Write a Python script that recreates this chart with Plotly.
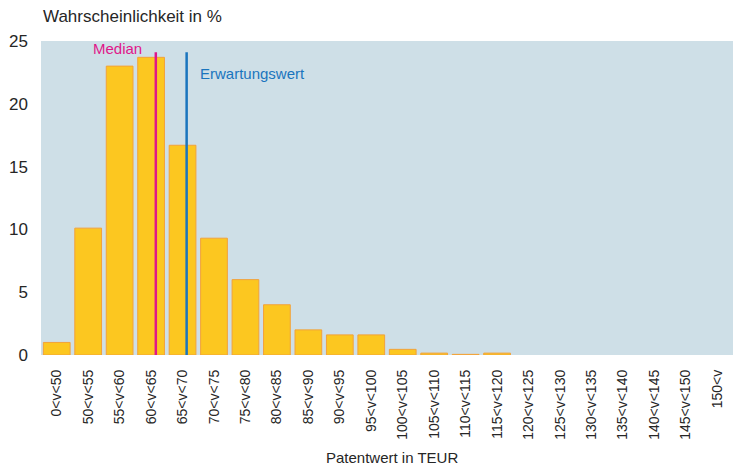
import plotly.graph_objects as go

categories = ["0<v<50", "50<v<55", "55<v<60", "60<v<65", "65<v<70", "70<v<75",
              "75<v<80", "80<v<85", "85<v<90", "90<v<95", "95<v<100", "100<v<105",
              "105<v<110", "110<v<115", "115<v<120", "120<v<125", "125<v<130",
              "130<v<135", "135<v<140", "140<v<145", "145<v<150", "150<v"]
probabilities = [1.0, 10.1, 23.0, 23.7, 16.7, 9.3, 6.0, 4.0, 2.0, 1.6, 1.6, 0.45,
                 0.15, 0.05, 0.15, 0, 0, 0, 0, 0, 0, 0]
# positions of reference lines in category-index units
median_pos = 3.15
mean_pos = 4.13
line_top = 24.1
y_ticks = [0, 5, 10, 15, 20, 25]

font_family = "Liberation Sans, Arial, sans-serif"
text_color = "#262626"

fig = go.Figure()
fig.add_trace(go.Bar(
    x=list(range(len(categories))), y=probabilities,
    marker=dict(color="#FCC720",
                line=dict(color="#F2A23A", width=[1 if p > 0 else 0 for p in probabilities])),
    showlegend=False, hoverinfo="skip"
))

fig.add_shape(type="line", xref="x", yref="y", x0=median_pos, x1=median_pos, y0=0, y1=line_top,
              line=dict(color="#E0168A", width=2.5))
fig.add_shape(type="line", xref="x", yref="y", x0=mean_pos, x1=mean_pos, y0=0, y1=line_top,
              line=dict(color="#1A75BE", width=2.5))

fig.add_annotation(x=median_pos, y=24.4, xref="x", yref="y", text="Median", showarrow=False,
                   xanchor="right", yanchor="middle", xshift=-12,
                   font=dict(family=font_family, size=15, color="#E0168A"))
fig.add_annotation(x=mean_pos, y=22.4, xref="x", yref="y", text="Erwartungswert", showarrow=False,
                   xanchor="left", yanchor="middle", xshift=11,
                   font=dict(family=font_family, size=15, color="#1A75BE"))

fig.add_annotation(x=0, y=1, xref="paper", yref="paper", text="Wahrscheinlichkeit in %",
                   showarrow=False, xanchor="left", yanchor="bottom", yshift=13,
                   font=dict(family=font_family, size=17, color=text_color))

fig.add_annotation(x=0.5, y=0, xref="paper", yref="paper", text="Patentwert in TEUR",
                   showarrow=False, xanchor="center", yanchor="middle", xshift=5, yshift=-102,
                   font=dict(family=font_family, size=15, color=text_color))

fig.update_layout(
    width=733, height=467,
    margin=dict(l=41, r=0, t=41, b=112),
    plot_bgcolor="#CEDFE7", paper_bgcolor="white",
    bargap=0.15,
    font=dict(family=font_family, color=text_color),
    xaxis=dict(
        tickmode="array", tickvals=list(range(len(categories))), ticktext=categories,
        tickangle=-90, tickfont=dict(size=14, color=text_color),
        range=[-0.5, len(categories) - 0.5], showgrid=False, zeroline=False,
        showline=False, ticks="", ticklabelstandoff=11,
        automargin=False,
    ),
    yaxis=dict(
        range=[0, 25], tickvals=y_ticks, tickfont=dict(size=17, color=text_color),
        showgrid=False, zeroline=False, showline=False, ticks="", ticklabelstandoff=12,
        automargin=False,
    ),
)

fig.write_html("out.html", config={"displayModeBar": False},
               post_script="document.body.style.margin='0';document.body.style.overflow='hidden';")
